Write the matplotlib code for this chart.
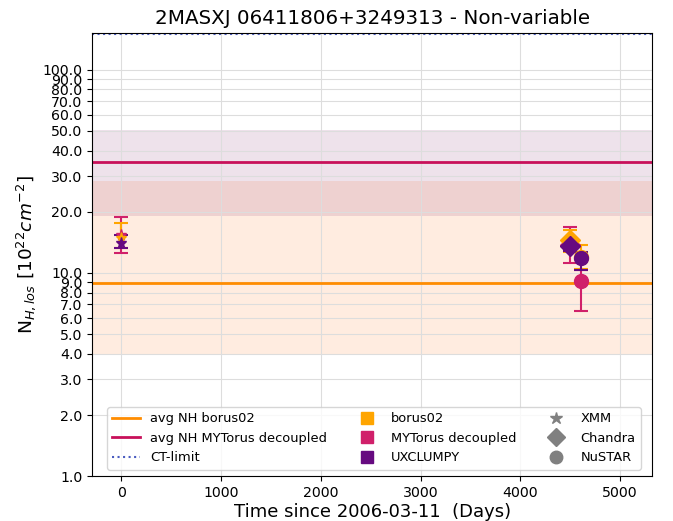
import matplotlib
matplotlib.use("Agg")
import matplotlib.pyplot as plt
from matplotlib.lines import Line2D
from matplotlib.ticker import FixedLocator, NullLocator, FormatStrFormatter

title = "2MASXJ 06411806+3249313 - Non-variable"
models = ["borus02", "MYTorus decoupled", "UXCLUMPY"]
model_colors = ["#ffa500", "#d0206a", "#660a80"]
instruments = ["XMM", "Chandra", "NuSTAR"]
inst_markers = ["*", "D", "o"]

# time (days) per instrument
times = {"XMM": 0, "Chandra": 4500, "NuSTAR": 4610}

# NH values [1e22 cm^-2], (value, lower err, upper err) per model per instrument
nh_borus = {"XMM": (14.8, 1.5, 2.8), "Chandra": (14.5, 1.8, 1.8), "NuSTAR": (12.0, 1.5, 1.7)}
nh_mytorus = {"XMM": (15.3, 2.7, 3.6), "Chandra": (13.8, 2.6, 3.1), "NuSTAR": (9.1, 2.6, 1.2)}
nh_uxclumpy = {"XMM": (14.1, 0.8, 1.2), "Chandra": (13.5, 0.7, 0.8), "NuSTAR": (11.8, 1.5, 0.9)}

avg_borus = 8.9
band_borus = (4.0, 28.4)
avg_mytorus = 35.2
band_mytorus = (19.1, 50.6)
ct_limit = 150.0

yticks = [1, 2, 3, 4, 5, 6, 7, 8, 9, 10, 20, 30, 40, 50, 60, 70, 80, 90, 100]
xticks = [0, 1000, 2000, 3000, 4000, 5000]

fig = plt.figure(figsize=(6.73, 5.21), dpi=100)
ax = fig.add_axes([0.137, 0.086, 0.832, 0.851])
ax.set_yscale("log")

ax.axhspan(*band_borus, color="#ff6a00", alpha=0.12, lw=0, zorder=0)
ax.axhspan(*band_mytorus, color="#80206a", alpha=0.13, lw=0, zorder=0)
ax.axhline(avg_borus, color="#ff8c00", lw=2, zorder=1)
ax.axhline(avg_mytorus, color="#c8105a", lw=2, zorder=1)
ax.axhline(ct_limit, color="#4a5cc0", lw=1.5, ls=":", zorder=1)

data = {"borus02": nh_borus, "MYTorus decoupled": nh_mytorus, "UXCLUMPY": nh_uxclumpy}
sizes = {"XMM": 8, "Chandra": 10, "NuSTAR": 10}
order = ["MYTorus decoupled", "borus02", "UXCLUMPY"]
for inst, mk in zip(instruments, inst_markers):
    for m in order:
        c = model_colors[models.index(m)]
        v, lo, hi = data[m][inst]
        ax.errorbar([times[inst]], [v], yerr=[[lo], [hi]], fmt=mk, color=c,
                    ms=sizes[inst], capsize=5, elinewidth=1.5, capthick=1.5, zorder=3)

ax.set_xlim(-290, 5320)
ax.set_ylim(1, 152)
ax.set_xticks(xticks)
ax.yaxis.set_major_locator(FixedLocator(yticks))
ax.yaxis.set_minor_locator(NullLocator())
ax.yaxis.set_major_formatter(FormatStrFormatter("%.1f"))
ax.tick_params(labelsize=10.2)
ax.grid(True, color="#dddddd", lw=0.8)
ax.set_axisbelow(True)

ax.set_title(title, fontsize=14.3)
ax.set_xlabel("Time since 2006-03-11  (Days)", fontsize=13, labelpad=2)
ax.set_ylabel(r"N$_{H,los}$ [$10^{22} cm^{-2}$]", fontsize=13.3, labelpad=3)

handles = [
    Line2D([], [], color="#ff8c00", lw=2),
    Line2D([], [], color="#c8105a", lw=2),
    Line2D([], [], color="#4a5cc0", lw=1.5, ls=":"),
]
labels = ["avg NH borus02", "avg NH MYTorus decoupled", "CT-limit"]
for m, c in zip(models, model_colors):
    handles.append(Line2D([], [], marker="s", color=c, ls="", ms=9))
    labels.append(m)
for inst, mk in zip(instruments, inst_markers):
    handles.append(Line2D([], [], marker=mk, color="grey", ls="", ms=9))
    labels.append(inst)
ax.legend(handles, labels, ncol=3, loc="lower center", fontsize=9.4,
          bbox_to_anchor=(0.503, 0.0), columnspacing=2.0, handlelength=2.1)

fig.savefig("out.png", dpi=100)
